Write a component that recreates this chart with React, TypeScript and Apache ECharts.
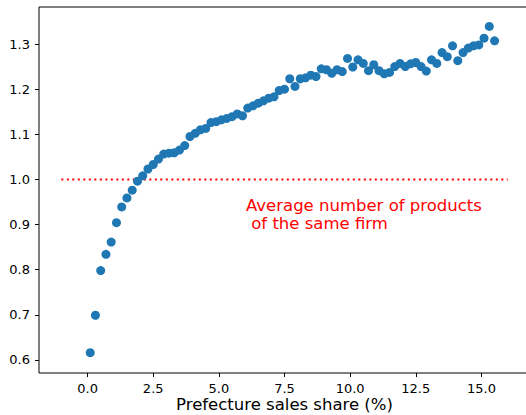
import React, { useEffect, useRef } from "react";
import * as echarts from "echarts";

const shareX = [
  0.1, 0.3, 0.5, 0.7, 0.9, 1.1, 1.3, 1.5, 1.7, 1.9,
  2.1, 2.3, 2.5, 2.7, 2.9, 3.1, 3.3, 3.5, 3.7, 3.9,
  4.1, 4.3, 4.5, 4.7, 4.9, 5.1, 5.3, 5.5, 5.7, 5.9,
  6.1, 6.3, 6.5, 6.7, 6.9, 7.1, 7.3, 7.5, 7.7, 7.9,
  8.1, 8.3, 8.5, 8.7, 8.9, 9.1, 9.3, 9.5, 9.7, 9.9,
  10.1, 10.3, 10.5, 10.7, 10.9, 11.1, 11.3, 11.5, 11.7, 11.9,
  12.1, 12.3, 12.5, 12.7, 12.9, 13.1, 13.3, 13.5, 13.7, 13.9,
  14.1, 14.3, 14.5, 14.7, 14.9, 15.1, 15.3, 15.5,
];

const avgProducts = [
  0.616, 0.699, 0.798, 0.834, 0.861, 0.904, 0.939, 0.959, 0.976, 0.996,
  1.008, 1.023, 1.033, 1.045, 1.056, 1.058, 1.059, 1.065, 1.075, 1.095,
  1.102, 1.11, 1.113, 1.126, 1.128, 1.132, 1.135, 1.139, 1.145, 1.141,
  1.158, 1.163, 1.169, 1.174, 1.18, 1.183, 1.197, 1.2, 1.223, 1.206,
  1.223, 1.225, 1.231, 1.228, 1.245, 1.243, 1.235, 1.243, 1.239, 1.268,
  1.249, 1.265, 1.257, 1.241, 1.254, 1.241, 1.234, 1.237, 1.25, 1.257,
  1.25, 1.256, 1.259, 1.25, 1.24, 1.265, 1.257, 1.281, 1.272, 1.296,
  1.263, 1.281, 1.291, 1.296, 1.298, 1.313, 1.339, 1.307,
];

const xTicks = [0, 2.5, 5, 7.5, 10, 12.5, 15];
const yTicks = [0.6, 0.7, 0.8, 0.9, 1.0, 1.1, 1.2, 1.3];
const refLineX = [-1, 16];
const refLineY = 1.0;
const annotationText = "Average number of products\n of the same firm";
const xAxisName = "Prefecture sales share (%)";

const FONT = '"DejaVu Sans", sans-serif';

export default function App() {
  const ref = useRef<HTMLDivElement>(null);

  useEffect(() => {
    if (!ref.current) return;
    const chart = echarts.init(ref.current, null, { renderer: "svg" });
    const points = shareX.map((x, i) => [x, avgProducts[i]]);
    const refLine = refLineX.map((x) => [x, refLineY]);
    chart.setOption({
      animation: false,
      backgroundColor: "#ffffff",
      grid: {
        left: 39,
        right: -4,
        top: 7,
        bottom: 42,
        show: true,
        borderColor: "#000",
        borderWidth: 1,
        backgroundColor: "transparent",
        outerBoundsMode: "none",
        containLabel: false,
      },
      xAxis: {
        type: "value",
        min: -1.85,
        max: 16.85,
        splitLine: { show: false },
        axisLine: { show: false, onZero: false },
        axisTick: {
          show: true,
          customValues: xTicks,
          length: 4,
          lineStyle: { color: "#000", width: 1 },
        },
        axisLabel: {
          customValues: xTicks,
          formatter: (v: number) => v.toFixed(1),
          fontSize: 13,
          color: "#000",
          margin: 9,
          fontFamily: FONT,
        },
        name: xAxisName,
        nameLocation: "middle",
        nameGap: 23,
        nameMoveOverlap: false,
        nameTextStyle: {
          fontSize: 16.5,
          lineHeight: 17,
          color: "#000",
          fontFamily: FONT,
        },
      },
      yAxis: {
        type: "value",
        min: 0.571,
        max: 1.382,
        splitLine: { show: false },
        axisLine: { show: false, onZero: false },
        axisTick: {
          show: true,
          customValues: yTicks,
          length: 4,
          lineStyle: { color: "#000", width: 1 },
        },
        axisLabel: {
          customValues: yTicks,
          formatter: (v: number) => v.toFixed(1),
          fontSize: 13,
          color: "#000",
          margin: 9,
          fontFamily: FONT,
        },
      },
      series: [
        {
          type: "line",
          data: refLine,
          symbol: "none",
          lineStyle: { color: "#ff0000", width: 2, type: [2, 3.5] },
          z: 1,
          silent: true,
        },
        {
          type: "scatter",
          data: points,
          symbolSize: 9,
          itemStyle: { color: "#1f77b4", opacity: 1 },
          z: 2,
        },
      ],
      graphic: [
        {
          type: "text",
          left: 246,
          top: 196,
          style: {
            text: annotationText,
            fill: "#ff0000",
            font: '16.5px "DejaVu Sans", sans-serif',
            lineHeight: 18.5,
          },
        },
      ],
    });
    return () => chart.dispose();
  }, []);

  return (
    <div
      ref={ref}
      style={{ position: "fixed", left: 0, top: 0, width: 526, height: 415 }}
    />
  );
}
